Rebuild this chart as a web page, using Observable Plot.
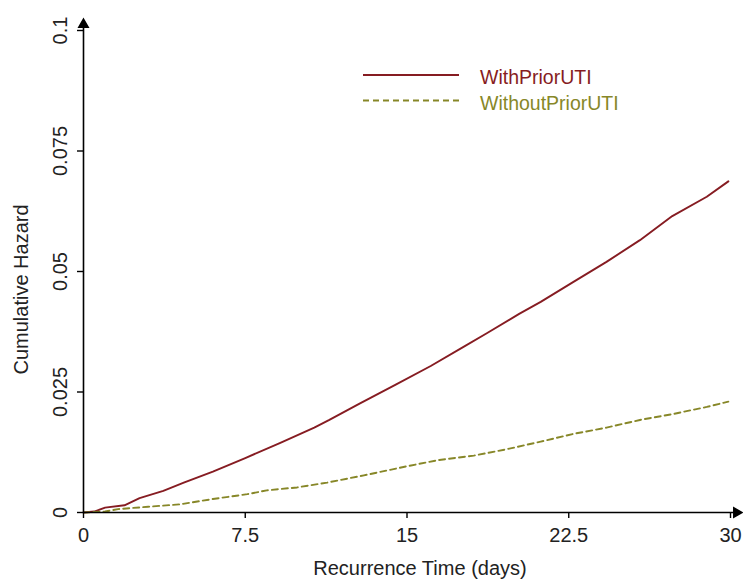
<!DOCTYPE html>
<html>
<head>
<meta charset="utf-8">
<script src="https://cdn.jsdelivr.net/npm/d3@7"></script>
<script src="https://cdn.jsdelivr.net/npm/@observablehq/plot@0.6"></script>
<style>
  html, body { margin: 0; padding: 0; background: #fff; }
  #wrap { position: relative; width: 743px; height: 583px; font-family: Arial, "Liberation Sans", sans-serif; }
  #legend { position: absolute; left: 0; top: 0; pointer-events: none; }
</style>
</head>
<body>
<div id="wrap"></div>
<script>
// ---- data ----
const seriesNames = ["WithPriorUTI", "WithoutPriorUTI"];
const seriesColors = ["#861c22", "#878728"];

const withTime = [0, 0.5, 1, 1.9, 2.6, 3.7, 4.65, 6.0, 7.5, 9.1, 10.7, 11.4, 12.8, 14.5, 16.1, 17.6, 18.7, 20.2, 21.2, 22.7, 24.25, 25.8, 27.3, 28.9, 29.9];
const withHazard = [0, 0.0002, 0.001, 0.0015, 0.003, 0.0045, 0.0062, 0.0085, 0.0113, 0.0144, 0.0176, 0.0192, 0.0226, 0.0266, 0.0304, 0.0343, 0.0372, 0.0412, 0.0437, 0.0478, 0.0520, 0.0565, 0.0615, 0.0655, 0.0687];

const withoutTime = [0, 1.0, 1.6, 3.0, 4.5, 6.0, 7.6, 8.5, 9.9, 11.3, 13.0, 15.0, 16.5, 18.1, 19.6, 21.2, 22.7, 24.25, 25.8, 27.3, 28.9, 29.9];
const withoutHazard = [0, 0.0002, 0.0007, 0.0012, 0.0017, 0.0028, 0.0038, 0.0046, 0.0052, 0.0062, 0.0077, 0.0096, 0.0109, 0.0118, 0.0131, 0.0147, 0.0163, 0.0176, 0.0192, 0.0204, 0.0219, 0.023];

const xTicks = [0, 7.5, 15, 22.5, 30];
const xTickLabels = ["0", "7.5", "15", "22.5", "30"];
const yTicks = [0, 0.025, 0.05, 0.075, 0.1];
const yTickLabels = ["0", "0.025", "0.05", "0.075", "0.1"];

const xLabel = "Recurrence Time (days)";
const yLabel = "Cumulative Hazard";

// ---- build ----
const withData = withTime.map((t, i) => ({t, h: withHazard[i]}));
const withoutData = withoutTime.map((t, i) => ({t, h: withoutHazard[i]}));
const textColor = "#222";
const fs = 20;

const chart = Plot.plot({
  width: 743,
  height: 583,
  marginLeft: 83,
  marginRight: 13,
  marginTop: 30,
  marginBottom: 71,
  style: {fontFamily: "Arial, 'Liberation Sans', sans-serif", fontSize: fs + "px", background: "#fff"},
  x: {type: "linear", domain: [0, 30]},
  y: {type: "linear", domain: [0, 0.1]},
  marks: [
    // data lines
    Plot.line(withData, {x: "t", y: "h", stroke: seriesColors[0], strokeWidth: 1.9}),
    Plot.line(withoutData, {x: "t", y: "h", stroke: seriesColors[1], strokeWidth: 1.9, strokeDasharray: "6,4"}),
    // axis lines
    Plot.ruleY([0], {stroke: "#000", strokeWidth: 1.6, insetRight: -8}),
    Plot.ruleX([0], {stroke: "#000", strokeWidth: 1.6, insetTop: -8}),
    // arrowheads
    Plot.dot([30], {x: d => d, y: () => 0, dx: 6, symbol: "triangle", rotate: 90, r: 3.5, fill: "#000", stroke: "#000"}),
    Plot.dot([0.1], {x: () => 0, y: d => d, dy: -6, symbol: "triangle", r: 3.5, fill: "#000", stroke: "#000"}),
    // ticks + labels
    Plot.axisX({ticks: xTicks, tickSize: 6, tickPadding: 9, tickFormat: d => xTickLabels[xTicks.indexOf(d)], stroke: "#000", strokeWidth: 1.4, fill: textColor, fontSize: fs, label: null}),
    Plot.axisY({ticks: yTicks, tickSize: 6, tickFormat: () => "", stroke: "#000", strokeWidth: 1.4, label: null}),
    // y tick labels (rotated)
    Plot.text(yTicks, {y: d => d, frameAnchor: "left", dx: -23, rotate: -90, text: (d, i) => yTickLabels[i], textAnchor: "middle", lineAnchor: "middle", fill: textColor, fontSize: fs}),
    // axis titles
    Plot.text([xLabel], {frameAnchor: "bottom", dx: 13, dy: 56, text: d => d, textAnchor: "middle", lineAnchor: "middle", fill: textColor, fontSize: fs}),
    Plot.text([yLabel], {frameAnchor: "left", dx: -62, dy: 18, rotate: -90, text: d => d, textAnchor: "middle", lineAnchor: "middle", fill: textColor, fontSize: fs})
  ]
});

const wrap = document.getElementById("wrap");
wrap.appendChild(chart);

// legend overlay
const ns = "http://www.w3.org/2000/svg";
const leg = document.createElementNS(ns, "svg");
leg.setAttribute("id", "legend");
leg.setAttribute("width", 743);
leg.setAttribute("height", 583);
const legendRows = [
  {y: 75, dash: null},
  {y: 100.5, dash: "6,4"}
];
seriesNames.forEach((name, i) => {
  const ln = document.createElementNS(ns, "line");
  ln.setAttribute("x1", 363); ln.setAttribute("x2", 459);
  ln.setAttribute("y1", legendRows[i].y); ln.setAttribute("y2", legendRows[i].y);
  ln.setAttribute("stroke", seriesColors[i]);
  ln.setAttribute("stroke-width", 1.9);
  if (legendRows[i].dash) ln.setAttribute("stroke-dasharray", legendRows[i].dash);
  leg.appendChild(ln);
  const tx = document.createElementNS(ns, "text");
  tx.setAttribute("x", 480);
  tx.setAttribute("y", legendRows[i].y + 2);
  tx.setAttribute("dominant-baseline", "central");
  tx.setAttribute("fill", seriesColors[i]);
  tx.setAttribute("font-size", 19.5);
  tx.setAttribute("font-family", "Arial, 'Liberation Sans', sans-serif");
  tx.textContent = name;
  leg.appendChild(tx);
});
wrap.appendChild(leg);
</script>
</body>
</html>
